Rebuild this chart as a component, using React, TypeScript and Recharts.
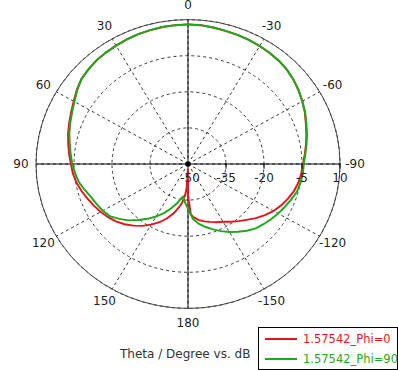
import { RadarChart, Radar, PolarGrid, PolarAngleAxis, PolarRadiusAxis } from 'recharts';

// Theta in degrees (0 = top, positive to the left), gain in dB
const theta = [
  -180, -177, -175, -170, -165, -160, -155, -150, -145, -140, -135, -130, -125, -120,
  -115, -110, -105, -100, -95, -90, -85, -80, -75, -70, -65, -60, -55, -50, -45, -40,
  -35, -30, -25, -20, -15, -10, -5, 0, 5, 10, 15, 20, 25, 30, 35, 40, 45, 50, 55, 60,
  65, 70, 75, 80, 85, 90, 95, 100, 105, 110, 115, 120, 125, 130, 135, 140, 145, 150,
  155, 160, 165, 170, 172, 175, 177, 178, 179,
];

const phi0 = [
  -37, -29, -28, -26.4, -25.3, -24.4, -23.3, -22.3, -20.7, -19.0, -17.2, -15.0, -12.9, -11.0,
  -9.4, -8.0, -6.7, -5.7, -5.1, -4.6, -3.7, -2.7, -1.6, -0.5, 0.9, 2.1, 3.3, 4.4, 5.3, 5.9,
  6.3, 6.6, 6.9, 7.1, 7.3, 7.6, 7.9, 8.0, 7.9, 7.8, 7.6, 7.4, 7.1, 6.8, 6.5, 6.2, 5.6, 4.9, 3.6, 2.1,
  0.9, -0.1, -1.0, -2.0, -2.9, -3.8, -4.4, -5.3, -6.5, -7.8, -9.0, -10.2, -11.5, -12.9, -14.6, -16.6, -18.6, -20.9,
  -23.3, -26.0, -29.0, -32.5, -34, -37, -40, -45, -48,
];

const phi90 = [
  -31.5, -29, -27.0, -24.7, -22.9, -21.1, -19.2, -17.4, -15.6, -13.8, -12.2, -11.1, -10.0, -8.9,
  -7.8, -6.7, -5.5, -4.9, -4.5, -4.3, -3.5, -2.5, -1.4, -0.3, 1.0, 2.1, 3.3, 4.4, 5.3, 5.9,
  6.3, 6.6, 6.9, 7.1, 7.3, 7.6, 7.9, 8.0, 7.9, 7.8, 7.6, 7.4, 7.1, 6.8, 6.5, 6.2, 5.6, 4.9, 3.4, 1.8,
  0.5, -0.5, -1.5, -2.6, -3.5, -4.3, -5.3, -6.3, -7.9, -9.4, -10.3, -11.2, -12.3, -14.5, -16.9, -19.6, -22.2, -24.8,
  -27.5, -30.3, -33.0, -35.8, -36.3, -34.5, -33.3, -32.8, -32.2,
];

const angleTicks = [0, 30, 60, 90, 120, 150, 180, -150, -120, -90, -60, -30];
const radiusTicks = [-50, -35, -20, -5, 10];

const rows = theta.map((t, i) => ({ theta: t, phi0: phi0[i], phi90: phi90[i] }));

// chart geometry (svg is shifted up by PAD so the top label has room)
const PAD = 20;
const CX = 188;
const CY = 164 + PAD;
const R = 152;
const FONT = '"DejaVu Sans", Verdana, sans-serif';

const AngleTick = (props: any) => {
  const { x, y, payload } = props;
  const dx = x - CX;
  const dy = y - CY;
  const d = Math.hypot(dx, dy) || 1;
  const r = R + 15;
  return (
    <text x={CX + (dx / d) * r} y={CY + (dy / d) * r} textAnchor="middle" dominantBaseline="central"
      fontFamily={FONT} fontSize={12} fill="#222">
      {payload.value}
    </text>
  );
};

const RadiusTick = (props: any) => {
  const { x, y, payload } = props;
  const centre = payload.value === radiusTicks[0];
  return (
    <g>
      {centre ? (
        <g stroke="#000" strokeWidth={1.2}>
          <line x1={x - 3} y1={y} x2={x + 3} y2={y} />
          <line x1={x} y1={y - 3} x2={x} y2={y + 3} />
          <line x1={x - 2} y1={y - 2} x2={x + 2} y2={y + 2} />
          <line x1={x - 2} y1={y + 2} x2={x + 2} y2={y - 2} />
        </g>
      ) : (
        <line x1={x} y1={y - 1} x2={x} y2={y + 5} stroke="#000" />
      )}
      <text x={x + (centre ? 2 : 0)} y={y + 15} textAnchor="middle" dominantBaseline="central"
        fontFamily={FONT} fontSize={12} fill="#222">
        {payload.value}
      </text>
    </g>
  );
};

export default function App() {
  return (
    <div style={{ position: 'absolute', left: 0, top: 0, width: 398, height: 370, background: '#fff', overflow: 'hidden' }}>
      <div style={{ position: 'absolute', left: 0, top: -PAD, transform: 'scaleY(0.95)', transformOrigin: `${CX}px ${CY}px` }}>
        <RadarChart width={398} height={360} data={rows} cx={CX} cy={CY} outerRadius={R}
          startAngle={-90} endAngle={270} margin={{ top: 0, right: 0, bottom: 0, left: 0 }}>
          <PolarGrid gridType="circle" stroke="#333" strokeDasharray="3 3" />
          <PolarGrid gridType="circle" polarAngles={[0, 90, 180, 270]} polarRadius={[]} stroke="#000" />
          <PolarAngleAxis dataKey="theta" type="number" domain={[-180, 180]} ticks={angleTicks}
            axisLineType="circle" axisLine={{ stroke: '#444' }} tickLine={false} tick={AngleTick} />
          <PolarRadiusAxis angle={0} type="number" domain={[-50, 10]} ticks={radiusTicks} tickCount={5}
            axisLine={false} tick={RadiusTick} />
          <Radar dataKey="phi0" stroke="#e8141c" strokeWidth={2} fill="none" fillOpacity={0}
            dot={false} isAnimationActive={false} />
          <Radar dataKey="phi90" stroke="#1ea81e" strokeWidth={2} fill="none" fillOpacity={0}
            dot={false} isAnimationActive={false} />
        </RadarChart>
      </div>

      <div style={{ position: 'absolute', left: 120, top: 347, fontFamily: FONT, fontSize: 12, color: '#333', whiteSpace: 'nowrap' }}>
        Theta / Degree vs. dB
      </div>

      <div style={{ position: 'absolute', left: 258, top: 327, width: 138, height: 41, border: '1.5px solid #000', fontFamily: FONT, fontSize: 11.5, whiteSpace: 'nowrap' }}>
        <div style={{ position: 'absolute', left: 6, top: 4, display: 'flex', alignItems: 'center' }}>
          <span style={{ display: 'inline-block', width: 32, height: 2, background: '#e8141c', marginRight: 6 }} />
          <span style={{ color: '#e8141c' }}>1.57542_Phi=0</span>
        </div>
        <div style={{ position: 'absolute', left: 6, top: 24, display: 'flex', alignItems: 'center' }}>
          <span style={{ display: 'inline-block', width: 32, height: 2, background: '#1ea81e', marginRight: 6 }} />
          <span style={{ color: '#1ea81e' }}>1.57542_Phi=90</span>
        </div>
      </div>
    </div>
  );
}
